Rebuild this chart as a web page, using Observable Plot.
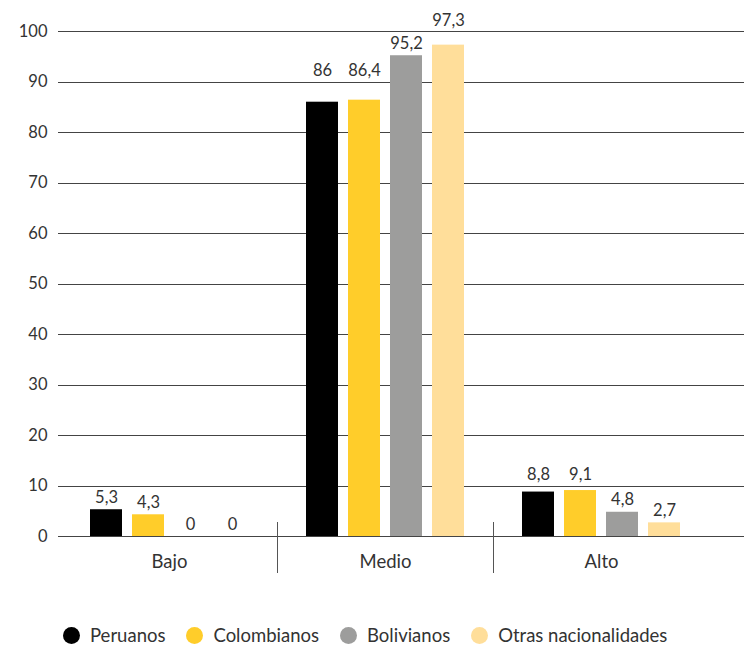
<!DOCTYPE html>
<html><head><meta charset="utf-8">
<script src="https://cdn.jsdelivr.net/npm/d3@7"></script>
<script src="https://cdn.jsdelivr.net/npm/@observablehq/plot@0.6"></script>
<style>
body{margin:0;background:#fff;font-family:Lato,"Open Sans",sans-serif;}
#chart svg{display:block;}
#legend{display:flex;align-items:center;padding:20px 0 0 63px;height:20px;font-size:18.5px;color:#333;line-height:20px;}
.item{display:flex;align-items:center;margin-right:21px;}
.dot{width:17px;height:17px;border-radius:50%;margin-right:10px;}
g[aria-label^="fx-axis"]{font-size:18.5px;}
</style></head><body>
<div id="chart"></div>
<div id="legend"></div>
<script>
// ---- data ----
const groups = ["Bajo", "Medio", "Alto"];
const series = ["Peruanos", "Colombianos", "Bolivianos", "Otras nacionalidades"];
const colors = ["#000000", "#FFCD2A", "#9D9D9C", "#FFDE9A"];
const peruanos    = [5.3, 86, 8.8];
const colombianos = [4.3, 86.4, 9.1];
const bolivianos  = [0, 95.2, 4.8];
const otras       = [0, 97.3, 2.7];
const yTicks = [0, 10, 20, 30, 40, 50, 60, 70, 80, 90, 100];

const values = [peruanos, colombianos, bolivianos, otras];
const table = [];
groups.forEach((g, gi) => series.forEach((s, si) => table.push({group: g, series: s, value: values[si][gi]})));

// ---- layout ----
const W = 744, H = 605, mL = 58, mT = 31, mB = 69;
const fxRange = [61, 709];
const xPadInner = 0.24, xPadOuter = 0.69;
const groupW = (fxRange[1] - fxRange[0]) / groups.length;
const step = groupW / (series.length - xPadInner + 2 * xPadOuter);
const sepDx = -(xPadOuter * step + step * (1 - xPadInner) / 2);

// labels sit above the bar, or above the next gridline when too close to it
const nextGrid = v => Math.floor(v / 10) * 10 + 10;
const labelY = d => (nextGrid(d.value) - d.value < 4.5 ? nextGrid(d.value) + 2.2 : d.value + 2.4);
const fmt = v => String(v).replace(".", ",");

const chart = Plot.plot({
  width: W, height: H,
  marginLeft: mL, marginRight: 0, marginTop: mT, marginBottom: mB,
  style: {fontFamily: "Lato, 'Open Sans', sans-serif", fontSize: "16.5px", color: "#333", background: "#fff"},
  fx: {domain: groups, range: fxRange, padding: 0, axis: "bottom", label: null, tickSize: 0, tickPadding: 18},
  x: {domain: series, paddingInner: xPadInner, paddingOuter: xPadOuter, axis: null},
  y: {domain: [0, 100], ticks: yTicks, tickSize: 0, tickPadding: 14, label: null, tickFormat: d => d},
  color: {domain: series, range: colors},
  marks: [
    Plot.ruleY(yTicks, {stroke: "#444", strokeWidth: 1, shapeRendering: "crispEdges", insetLeft: -(fxRange[0] - mL), insetRight: -(W - fxRange[1])}),
    Plot.ruleX(groups.slice(1), {fx: d => d, x: () => series[0], dx: sepDx, y1: () => 2.8, y2: () => -7.3, stroke: "#555", strokeWidth: 1, shapeRendering: "crispEdges"}),
    Plot.barY(table, {fx: "group", x: "series", y: "value", fill: "series"}),
    Plot.text(table, {fx: "group", x: "series", y: labelY, text: d => fmt(d.value), fill: "#333", fontSize: 16.5})
  ]
});
document.getElementById("chart").appendChild(chart);

const legend = document.getElementById("legend");
series.forEach((s, i) => {
  const it = document.createElement("div"); it.className = "item";
  const dot = document.createElement("span"); dot.className = "dot"; dot.style.background = colors[i];
  const t = document.createElement("span"); t.textContent = s;
  it.appendChild(dot); it.appendChild(t); legend.appendChild(it);
});
</script>
</body></html>
